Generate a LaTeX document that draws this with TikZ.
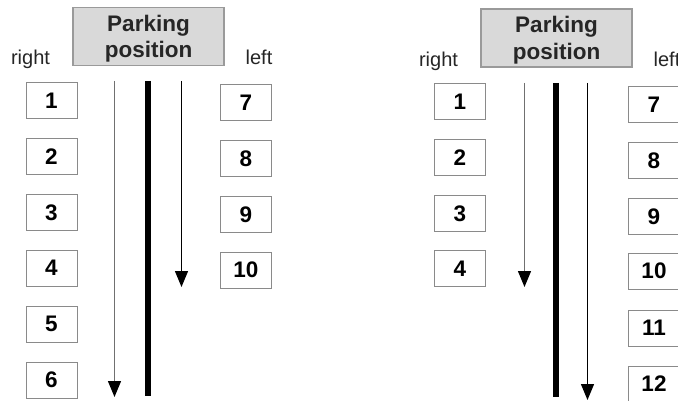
\documentclass[tikz,border=0pt]{standalone}
\usepackage{fontspec}
\setmainfont{Liberation Sans}
\usetikzlibrary{arrows.meta}
\definecolor{boxgray}{HTML}{8A8A8A}
\definecolor{pfill}{HTML}{D9D9D9}
\definecolor{pline}{HTML}{9A9A9A}
\definecolor{shaft}{HTML}{707070}
\tikzset{
  numbox/.style={draw=boxgray, line width=1pt, fill=white, minimum width=51pt, minimum height=36pt, inner sep=0pt,
    font=\fontsize{22.5}{26}\selectfont\bfseries},
  pbox/.style={draw=pline, line width=1.2pt, fill=pfill, minimum width=151pt, minimum height=58pt, inner sep=0pt},
  ptext/.style={align=center, inner sep=0pt, font=\fontsize{22.5}{26.5}\selectfont\bfseries, text=black!85},
  lbl/.style={anchor=base, inner sep=0pt, font=\fontsize{20}{24}\selectfont, text=black!85},
  bar/.style={line width=6pt, black},
  garrow/.style={shaft, line width=1.3pt, -{Triangle[length=16pt, width=13pt, color=black]}},
  barrow/.style={black, line width=1.3pt, -{Triangle[length=16pt, width=13pt]}}
}
\begin{document}
\begin{tikzpicture}[x=1pt, y=-1pt]
\useasboundingbox (0,0) rectangle (678,401);
\fill[white] (0,0) rectangle (678,401);
\clip (0,0) rectangle (678,401);

% ---------- left diagram ----------
\node[pbox] (pkA) at (148.5,36.5) {};
\node[ptext] (pkAt) at ([yshift=-2pt]pkA.center) {Parking\\position};
\node[lbl] (rA) at (30.5,65) {right};
\node[lbl] (lA) at (259,65) {left};

\foreach \n/\y in {1/101,2/157,3/213,4/268,5/324,6/380}
  \node[numbox] (A\n) at (51.5,\y) {\n};
\foreach \n/\y in {7/103,8/159,9/215,10/270}
  \node[numbox] (A\n) at (246,\y) {\n};

\coordinate (gAs) at (114.5,81);
\coordinate (gAe) at (114.5,397);
\coordinate (tAs) at (147.5,81);
\coordinate (tAe) at (147.5,396);
\coordinate (bAs) at (181.5,81);
\coordinate (bAe) at (181.5,287);
\draw[garrow] (gAs) -- (gAe);
\draw[bar] (tAs) -- (tAe);
\draw[barrow] (bAs) -- (bAe);

% ---------- right diagram ----------
\node[pbox] (pkB) at (556.5,38) {};
\node[ptext] (pkBt) at ([yshift=-2pt]pkB.center) {Parking\\position};
\node[lbl] (rB) at (438.5,67) {right};
\node[lbl] (lB) at (667,67) {left};

\foreach \n/\y in {1/101.5,2/158,3/214,4/268.5}
  \node[numbox] (B\n) at (460,\y) {\n};
\foreach \n/\y in {7/105,8/161,9/217,10/271,11/328,12/384}
  \node[numbox] (B\n) at (654,\y) {\n};

\coordinate (gBs) at (524.5,83);
\coordinate (gBe) at (524.5,287);
\coordinate (tBs) at (556,83);
\coordinate (tBe) at (556,397);
\coordinate (bBs) at (587.5,83);
\coordinate (bBe) at (587.5,400);
\draw[garrow] (gBs) -- (gBe);
\draw[bar] (tBs) -- (tBe);
\draw[barrow] (bBs) -- (bBe);
\end{tikzpicture}
\end{document}
